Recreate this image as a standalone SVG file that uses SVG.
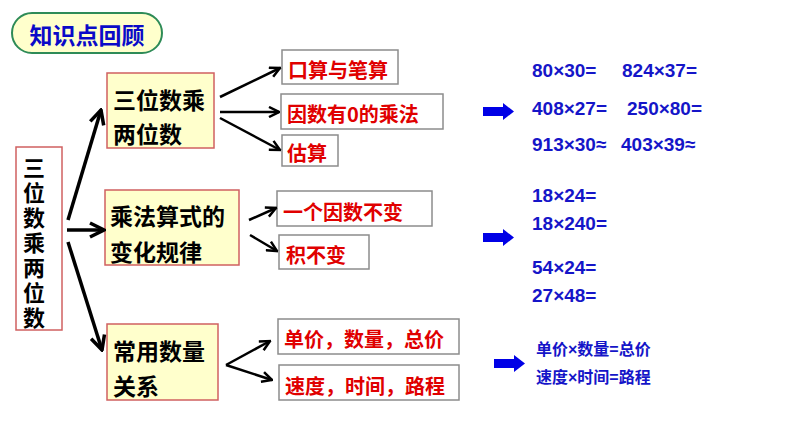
<svg xmlns="http://www.w3.org/2000/svg" width="794" height="447" viewBox="0 0 794 447">
<style>
text{font-family:"Liberation Sans","Noto Sans CJK SC",sans-serif;font-weight:bold;dominant-baseline:central}
.yb{fill:#FFFFCC;stroke:#D06060;stroke-width:1.5}
.rb{fill:#FFFFFF;stroke:#8C8C8C;stroke-width:1.5}
.bk{font-family:"Noto Sans CJK SC",sans-serif;font-size:23px;fill:#000}
.vt{font-family:"Noto Sans CJK SC",sans-serif;font-size:22px;fill:#000;writing-mode:vertical-rl;letter-spacing:3px}
.rd{font-family:"Noto Sans CJK SC",sans-serif;font-size:20px;fill:#E00000}
.bl{font-size:19px;fill:#1515C8}
.bc{font-family:"Liberation Sans","Noto Sans CJK SC",sans-serif;font-size:16px;fill:#1515C8}
.c1{stroke:#000;stroke-width:3.5;fill:none;marker-end:url(#ah)}
.c2{stroke:#000;stroke-width:2.5;fill:none;marker-end:url(#ah)}
</style>
<defs>
<marker id="ah" viewBox="0 0 10 10" refX="9" refY="5" markerWidth="5" markerHeight="5" markerUnits="strokeWidth" orient="auto">
<path d="M1,1 L9,5 L1,9" fill="none" stroke="#000" stroke-width="2"/>
</marker>
<polygon id="barrow" points="0,4 20,4 20,0 31,8.5 20,17 20,13 0,13" fill="#0000E6"/>
</defs>
<rect width="794" height="447" fill="#FFFFFF"/>
<g id="title">
<rect x="12" y="13" width="150" height="40" rx="20" fill="#FFFFCC" stroke="#2E8B57" stroke-width="2"/>
<text x="87" y="34" text-anchor="middle" style="font-family:'Noto Sans CJK SC',sans-serif;font-size:23px;fill:#0A0AC8">知识点回顾</text>
</g>
<g id="root">
<rect x="16" y="147" width="46" height="183" fill="#FFFFFF" stroke="#D06060" stroke-width="1.5"/>
<text class="vt" x="34" y="157">三位数乘两位数</text>
</g>
<g id="n1">
<rect class="yb" x="107" y="73" width="107" height="75"/>
<text class="bk" x="113" y="99">三位数乘</text>
<text class="bk" x="113" y="133">两位数</text>
</g>
<g id="n2">
<rect class="yb" x="105" y="190" width="134" height="75"/>
<text class="bk" x="110" y="215">乘法算式的</text>
<text class="bk" x="110" y="251">变化规律</text>
</g>
<g id="n3">
<rect class="yb" x="107" y="324" width="111" height="76"/>
<text class="bk" x="113" y="350">常用数量</text>
<text class="bk" x="113" y="385">关系</text>
</g>
<g id="r1"><rect class="rb" x="282" y="50" width="116" height="34"/><text class="rd" x="288" y="69">口算与笔算</text></g>
<g id="r2"><rect class="rb" x="281" y="94" width="162" height="35"/><text class="rd" x="287" y="113">因数有0的乘法</text></g>
<g id="r3"><rect class="rb" x="282" y="135" width="56" height="31"/><text class="rd" x="287" y="152">估算</text></g>
<g id="r4"><rect class="rb" x="277" y="191" width="155" height="35"/><text class="rd" x="283" y="211">一个因数不变</text></g>
<g id="r5"><rect class="rb" x="279" y="235" width="90" height="34"/><text class="rd" x="286" y="254">积不变</text></g>
<g id="r6"><rect class="rb" x="278" y="319" width="181" height="35"/><text class="rd" x="284" y="338">单价，数量，总价</text></g>
<g id="r7"><rect class="rb" x="279" y="365" width="180" height="35"/><text class="rd" x="285" y="385">速度，时间，路程</text></g>
<g id="connectors">
<path class="c1" d="M68,220 L101,110"/>
<path class="c1" d="M67,230 L104,230"/>
<path class="c1" d="M68,242 L102,350"/>
<path class="c2" d="M220,97 L280,68"/>
<path class="c2" d="M220,112 L279,112"/>
<path class="c2" d="M220,118 L280,150"/>
<path class="c2" d="M249,220 L276,208"/>
<path class="c2" d="M250,235 L277,251"/>
<path class="c2" d="M226,365 L270,341"/>
<path class="c2" d="M226,365 L272,380"/>
</g>
<g id="blue-arrows">
<use href="#barrow" x="483" y="103"/>
<use href="#barrow" x="483" y="229"/>
<use href="#barrow" x="494" y="355"/>
</g>
<g id="ex1">
<text class="bl" x="532" y="70">80×30=</text>
<text class="bl" x="622" y="70">824×37=</text>
<text class="bl" x="532" y="108">408×27=</text>
<text class="bl" x="627" y="108">250×80=</text>
<text class="bl" x="532" y="144">913×30≈</text>
<text class="bl" x="621" y="144">403×39≈</text>
</g>
<g id="ex2">
<text class="bl" x="532" y="195">18×24=</text>
<text class="bl" x="532" y="223">18×240=</text>
<text class="bl" x="532" y="267">54×24=</text>
<text class="bl" x="532" y="295">27×48=</text>
</g>
<g id="ex3">
<text class="bc" x="536" y="349">单价×数量=总价</text>
<text class="bc" x="536" y="377">速度×时间=路程</text>
</g>
</svg>
